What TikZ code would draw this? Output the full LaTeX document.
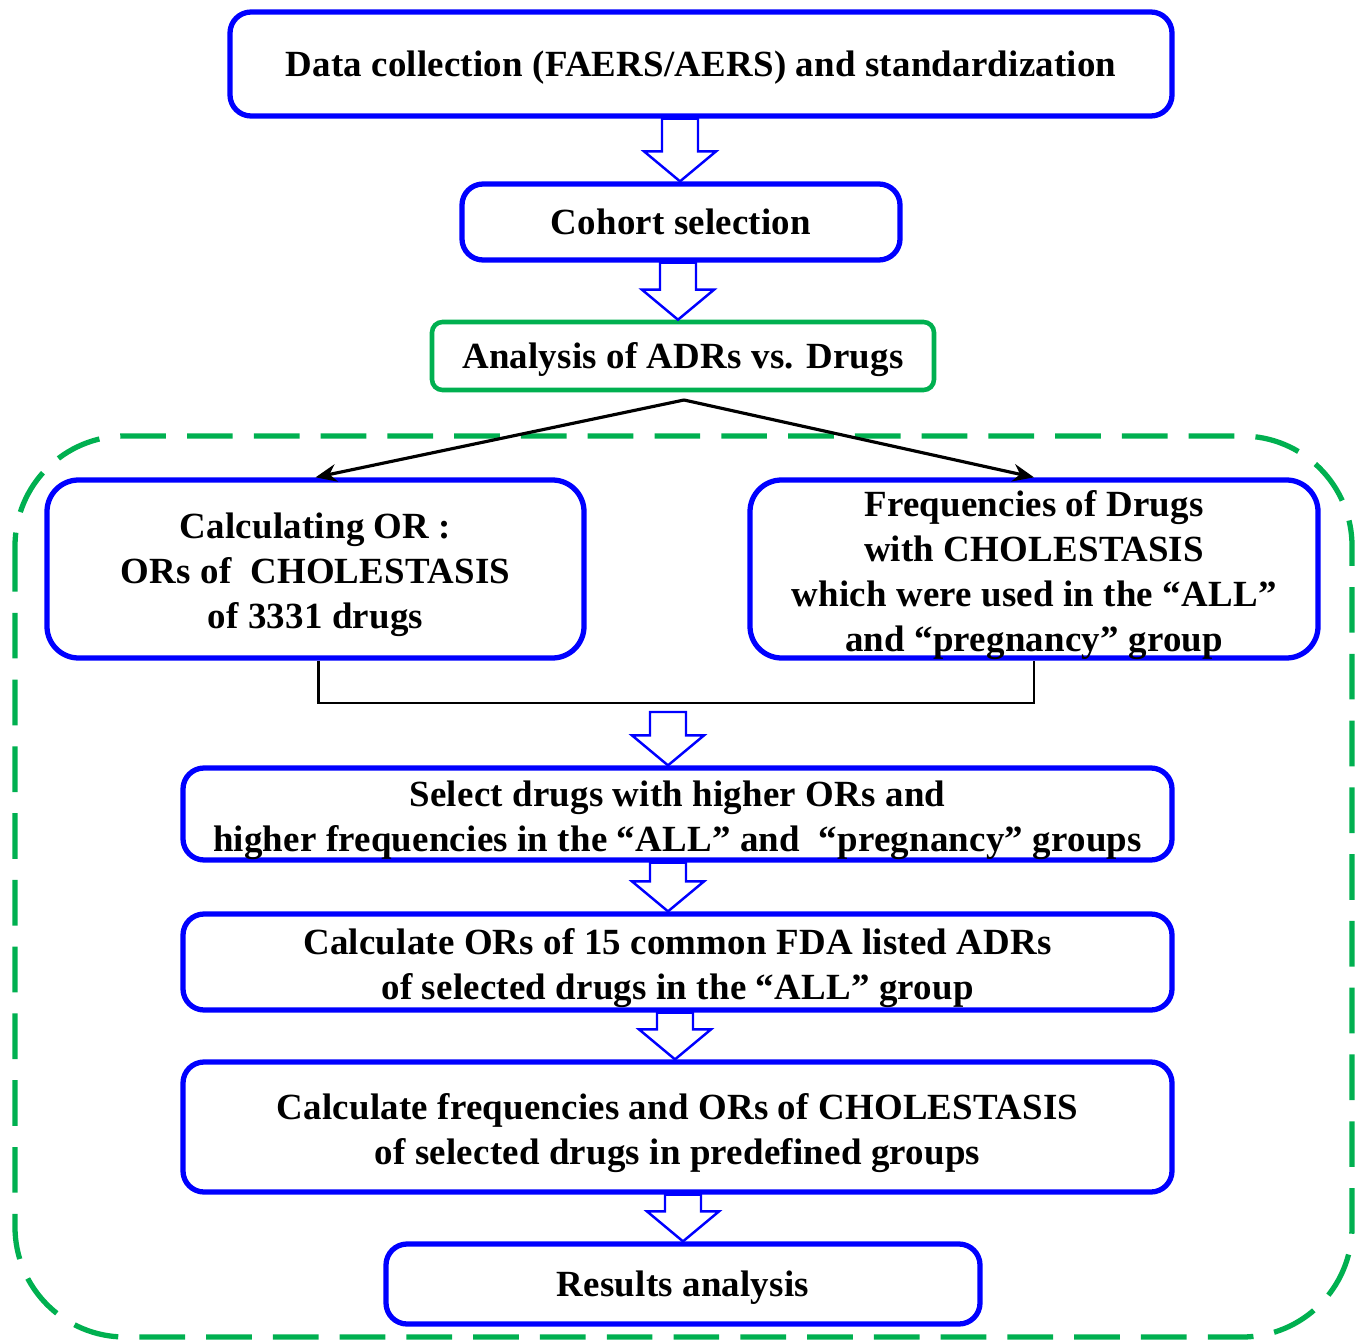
\documentclass[tikz,border=0pt]{standalone}
\usepackage{fontspec}
\setmainfont[LetterSpace=0.6]{Liberation Serif}
\usepackage{tikz}
\usetikzlibrary{calc,positioning,arrows.meta}
\definecolor{flowBlue}{HTML}{0000FF}
\definecolor{flowGreen}{HTML}{00B050}
\newcommand{\upstrut}{\rule{0pt}{11.5pt}}
\newcommand{\hollowdown}[3]{%
  \draw[hollow] let \p1=#1, \p2=#2 in
    (#3cm-0.18cm,\y1) -- (#3cm-0.18cm,\y2+0.3cm) -- (#3cm-0.36cm,\y2+0.3cm)
    -- (#3cm,\y2) -- (#3cm+0.36cm,\y2+0.3cm) -- (#3cm+0.18cm,\y2+0.3cm)
    -- (#3cm+0.18cm,\y1) -- cycle;}
\begin{document}
\begin{tikzpicture}[
  box/.style={draw=flowBlue,line width=1.5pt,rounded corners=#1,fill=white,
              inner sep=0pt,inner ysep=-3pt,align=center,
              font=\bfseries\fontsize{10.5}{12.8}\selectfont,
              execute at begin node={\rule{0pt}{10.2pt}},
              execute at end node={\rule[-3pt]{0pt}{0pt}}},
  box/.default=6pt,
  hollow/.style={draw=flowBlue,line width=0.7pt,fill=white},
  arrow/.style={-{Stealth[length=6pt,width=5pt]},line width=0.9pt},
  bracket/.style={line width=0.6pt},
  frame/.style={draw=flowGreen,line width=1.5pt,dash pattern=on 13pt off 6pt,
                rounded corners=1.1cm}]
  \useasboundingbox (0,0) rectangle (13.6,-13.4);
  \draw[frame] (0.15,-4.36) rectangle (13.52,-13.37);
  \node[box,minimum width=9.42cm,minimum height=1.04cm] (data) at (7.01,-0.64)
    {Data collection (FAERS/AERS) and standardization};
  \node[box,minimum width=4.38cm,minimum height=0.76cm] (cohort) at (6.81,-2.22)
    {Cohort selection};
  \node[box,draw=flowGreen,line width=1.3pt,rounded corners=3pt,
        minimum width=5.02cm,minimum height=0.68cm] (analysis) at (6.83,-3.56)
    {Analysis of ADRs vs. Drugs};
  \node[box=9pt,minimum width=5.37cm,minimum height=1.78cm] (calcor) at (3.155,-5.69)
    {\upstrut Calculating OR :\\ORs of~ CHOLESTASIS\\of 3331 drugs};
  \node[box=9pt,minimum width=5.68cm,minimum height=1.78cm] (freq) at (10.34,-5.69)
    {\upstrut Frequencies of Drugs\\with CHOLESTASIS\\which were used in the “ALL”\\and “pregnancy” group};
  \node[box,minimum width=9.89cm,minimum height=0.92cm] (select) at (6.775,-8.14)
    {\upstrut Select drugs with higher ORs and\\higher frequencies in the “ALL” and~ “pregnancy” groups};
  \node[box,minimum width=9.89cm,minimum height=0.96cm] (calcfda) at (6.775,-9.62)
    {\upstrut Calculate ORs of 15 common FDA listed ADRs\\of selected drugs in the “ALL” group};
  \node[box,minimum width=9.89cm,minimum height=1.30cm] (calcfreq) at (6.775,-11.27)
    {\upstrut Calculate frequencies and ORs of CHOLESTASIS\\of selected drugs in predefined groups};
  \node[box,minimum width=5.94cm,minimum height=0.80cm] (results) at (6.83,-12.84)
    {Results analysis};
  \coordinate (split) at (6.84,-4.00);
  \coordinate (join) at (6.68,-7.12);
  \draw[arrow] (split) -- (calcor.north);
  \draw[arrow] (split) -- (freq.north);
  \draw[bracket] ([xshift=0.03cm]calcor.south) -- ++(0,-0.42) -| (freq.south);
  \hollowdown{(data.south)}{(cohort.north)}{6.80}
  \hollowdown{(cohort.south)}{(analysis.north)}{6.78}
  \hollowdown{(join)}{(select.north)}{6.68}
  \hollowdown{(select.south)}{(calcfda.north)}{6.68}
  \hollowdown{(calcfda.south)}{(calcfreq.north)}{6.75}
  \hollowdown{(calcfreq.south)}{(results.north)}{6.83}
\end{tikzpicture}
\end{document}
